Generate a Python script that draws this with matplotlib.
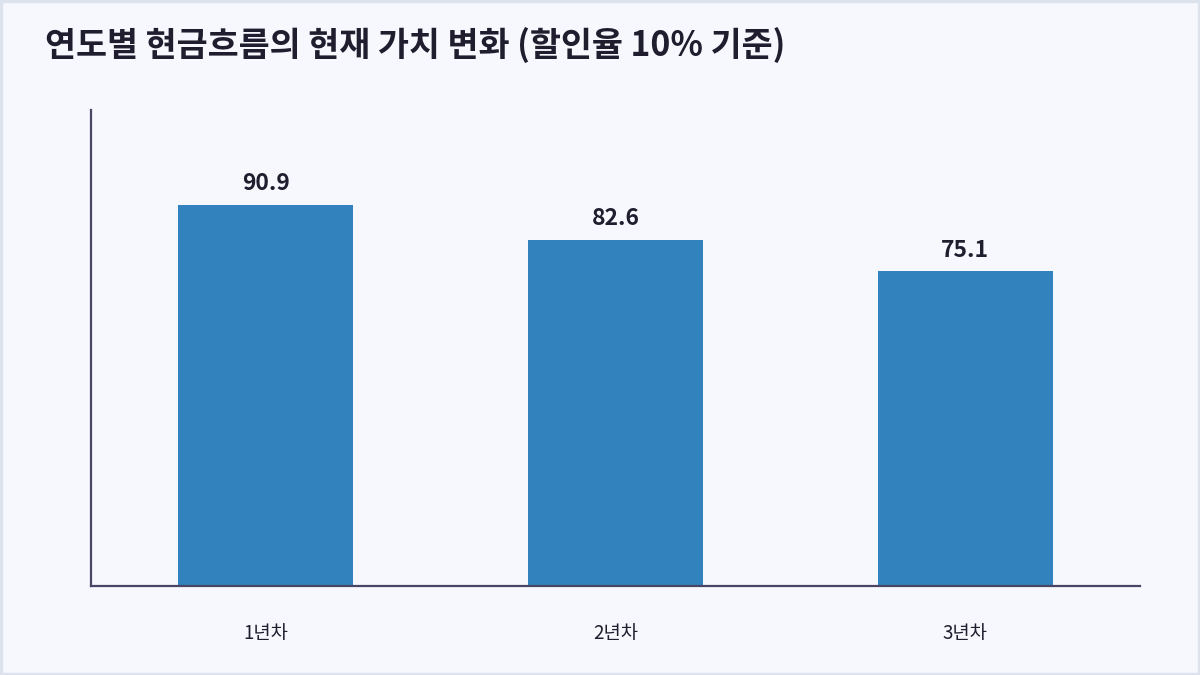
import matplotlib.pyplot as plt
from matplotlib.patches import Rectangle

plt.rcParams['font.family'] = ['Noto Sans CJK KR', 'DejaVu Sans']

years = ['1년차', '2년차', '3년차']
present_values = [90.9, 82.6, 75.1]
value_labels = ['90.9', '82.6', '75.1']

bg = '#f7f8fd'
ink = '#1f1d2e'
spine = '#4a4565'

fig = plt.figure(figsize=(12, 6.75), dpi=100, facecolor=bg)
fig.patches.append(Rectangle((0.001, 0.002), 0.998, 0.996, transform=fig.transFigure,
                             fill=False, edgecolor='#dde3ec', linewidth=2.5))
ax = fig.add_axes([0.0758, 0.1319, 0.8742, 0.7051])
ax.set_facecolor(bg)

x = range(len(years))
bars = ax.bar(x, present_values, width=0.5, color='#3182bd')
ax.bar_label(bars, labels=value_labels, padding=7, fontsize=16.5, fontweight='bold', color=ink)

ax.set_xlim(-0.5, 2.5)
ax.set_ylim(0, max(present_values) * 1.25)
ax.set_xticks(list(x))
ax.set_xticklabels(years, fontsize=13.5, color=ink)
ax.tick_params(axis='x', length=0, pad=27)
ax.set_yticks([])
for s in ['top', 'right']:
    ax.spines[s].set_visible(False)
for s in ['left', 'bottom']:
    ax.spines[s].set_color(spine)
    ax.spines[s].set_linewidth(1.6)

fig.text(0.0375, 0.933, '연도별 현금흐름의 현재 가치 변화 (할인율 10% 기준)', fontsize=24.3,
         fontweight='bold', color=ink, va='center', ha='left')

fig.savefig('out.png', dpi=100, facecolor=bg)
